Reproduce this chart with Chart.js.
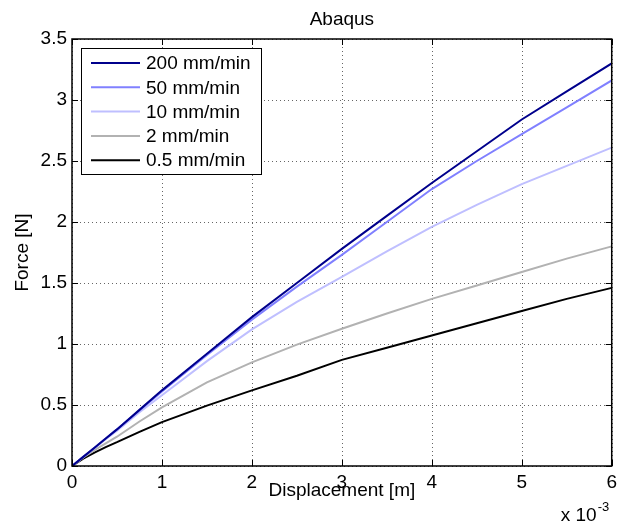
<!DOCTYPE html>
<html>
<head>
<meta charset="utf-8">
<title>Abaqus</title>
<script src="https://cdn.jsdelivr.net/npm/chart.js@4.4.1/dist/chart.umd.min.js"></script>
<style>
  html, body { margin: 0; padding: 0; background: #fff; }
  #wrap { width: 622px; height: 527px; }
</style>
</head>
<body>
<div id="wrap"><canvas id="force_curve" width="622" height="527"></canvas></div>
<script>
// displacement in metres, force in newtons
const displacement = [0, 0.000125, 0.00025, 0.000375, 0.0005, 0.00075, 0.001, 0.0015, 0.002, 0.0025, 0.003, 0.0035, 0.004, 0.0045, 0.005, 0.0055, 0.006];
const force200 = [0, 0.075, 0.15, 0.225, 0.30, 0.46, 0.62, 0.92, 1.22, 1.50, 1.78, 2.05, 2.32, 2.58, 2.84, 3.07, 3.30];
const force50 = [0, 0.075, 0.15, 0.225, 0.30, 0.455, 0.61, 0.91, 1.20, 1.47, 1.73, 2.00, 2.27, 2.50, 2.72, 2.94, 3.16];
const force10 = [0, 0.073, 0.145, 0.22, 0.29, 0.44, 0.58, 0.86, 1.12, 1.345, 1.55, 1.76, 1.96, 2.14, 2.31, 2.46, 2.61];
const force2 = [0, 0.07, 0.13, 0.185, 0.24, 0.365, 0.48, 0.685, 0.85, 0.995, 1.125, 1.25, 1.37, 1.48, 1.59, 1.70, 1.80];
const force05 = [0, 0.06, 0.11, 0.155, 0.195, 0.28, 0.36, 0.495, 0.62, 0.74, 0.87, 0.97, 1.07, 1.17, 1.27, 1.37, 1.46];

const seriesLabels = ["200 mm/min", "50 mm/min", "10 mm/min", "2 mm/min", "0.5 mm/min"];
const seriesColors = ["rgb(0,0,140)", "rgb(128,128,255)", "rgb(191,191,255)", "rgb(178,178,178)", "rgb(0,0,0)"];
const seriesValues = [force200, force50, force10, force2, force05];

const xTitle = "Displacement [m]";
const yTitle = "Force [N]";
const xExponent = "-3";

const FONT = "'Liberation Sans', Arial, Helvetica, sans-serif";

window.onload = init;

function init() {
  Chart.defaults.font.family = FONT;
  Chart.defaults.font.size = 19;
  Chart.defaults.color = "#000";
  drawForceChart();
}

function toPoints(values) {
  return displacement.map(function (x, i) {
    return { x: x, y: values[i] };
  });
}

// dotted grid, box round the axes and inward tick marks, like a MATLAB figure
const framePlugin = {
  id: "frame",
  beforeDatasetsDraw(chart) {
    const ctx = chart.ctx;
    const area = chart.chartArea;
    const xs = chart.scales.x;
    const ys = chart.scales.y;

    ctx.save();
    ctx.strokeStyle = "rgba(0,0,0,0.6)";
    ctx.lineWidth = 1;
    ctx.setLineDash([1, 3]);
    ctx.beginPath();
    xs.ticks.forEach(function (t) {
      let px = Math.round(xs.getPixelForValue(t.value)) + 0.5;
      ctx.moveTo(px, area.top);
      ctx.lineTo(px, area.bottom);
    });
    ys.ticks.forEach(function (t) {
      let py = Math.round(ys.getPixelForValue(t.value)) + 0.5;
      ctx.moveTo(area.left, py);
      ctx.lineTo(area.right, py);
    });
    ctx.stroke();
    ctx.restore();
  },
  afterDatasetsDraw(chart) {
    const ctx = chart.ctx;
    const area = chart.chartArea;
    const xs = chart.scales.x;
    const ys = chart.scales.y;
    const len = 6;

    ctx.save();
    ctx.strokeStyle = "#000";
    ctx.lineWidth = 1;
    ctx.beginPath();
    xs.ticks.forEach(function (t) {
      let px = Math.round(xs.getPixelForValue(t.value)) + 0.5;
      ctx.moveTo(px, area.bottom);
      ctx.lineTo(px, area.bottom - len);
      ctx.moveTo(px, area.top);
      ctx.lineTo(px, area.top + len);
    });
    ys.ticks.forEach(function (t) {
      let py = Math.round(ys.getPixelForValue(t.value)) + 0.5;
      ctx.moveTo(area.left, py);
      ctx.lineTo(area.left + len, py);
      ctx.moveTo(area.right, py);
      ctx.lineTo(area.right - len, py);
    });
    ctx.stroke();

    ctx.lineWidth = 1.5;
    ctx.strokeRect(area.left, area.top, area.right - area.left, area.bottom - area.top);

    // exponent of the x axis
    ctx.fillStyle = "#000";
    ctx.textBaseline = "alphabetic";
    ctx.textAlign = "left";
    ctx.font = "19px " + FONT;
    ctx.fillText("x 10", area.right - 51, 521);
    let w = ctx.measureText("x 10").width;
    ctx.font = "13px " + FONT;
    ctx.fillText(xExponent, area.right - 51 + w + 1, 511);
    ctx.restore();
  },
  afterDraw(chart) {
    // legend box in the upper left corner
    const ctx = chart.ctx;
    const area = chart.chartArea;
    const left = area.left + 9;
    const top = area.top + 9;
    const width = 180;
    const rowH = 24.3;
    const height = 126;

    ctx.save();
    ctx.fillStyle = "#fff";
    ctx.fillRect(left, top, width, height);
    ctx.strokeStyle = "#000";
    ctx.lineWidth = 1;
    ctx.strokeRect(left + 0.5, top + 0.5, width, height);

    ctx.font = "19px " + FONT;
    ctx.textBaseline = "middle";
    ctx.textAlign = "left";
    chart.data.datasets.forEach(function (ds, i) {
      let y = top + 15 + i * rowH;
      ctx.strokeStyle = ds.borderColor;
      ctx.lineWidth = 2;
      ctx.beginPath();
      ctx.moveTo(left + 10, y);
      ctx.lineTo(left + 59, y);
      ctx.stroke();
      ctx.fillStyle = "#000";
      ctx.fillText(ds.label, left + 65, y + 1);
    });
    ctx.restore();
  },
};

function drawForceChart() {
  let datasets = seriesLabels.map(function (label, i) {
    return {
      label: label,
      data: toPoints(seriesValues[i]),
      borderColor: seriesColors[i],
      backgroundColor: seriesColors[i],
      borderWidth: 2,
      pointRadius: 0,
      tension: 0,
      fill: false,
    };
  });

  const ctx = document.getElementById("force_curve");
  new Chart(ctx, {
    type: "line",
    data: { datasets: datasets },
    plugins: [framePlugin],
    options: {
      responsive: false,
      animation: false,
      devicePixelRatio: 1,
      layout: { padding: { left: 0, right: 8, top: 0, bottom: 0 } },
      plugins: {
        legend: { display: false },
        tooltip: { enabled: false },
        title: {
          display: true,
          text: "Abaqus",
          fullSize: false,
          color: "#000",
          font: { size: 19, weight: "normal" },
          padding: { top: 8, bottom: 8.2 },
        },
      },
      scales: {
        x: {
          type: "linear",
          min: 0,
          max: 0.006,
          afterFit: function (scale) {
            scale.height = 61;
          },
          ticks: {
            stepSize: 0.001,
            padding: 5,
            color: "#000",
            maxRotation: 0,
            callback: function (v) {
              return Math.round(v * 1000).toString();
            },
          },
          grid: { display: false, drawTicks: false },
          border: { display: false },
          title: {
            display: true,
            text: xTitle,
            color: "#000",
            padding: { top: 0, bottom: 25 },
          },
        },
        y: {
          type: "linear",
          min: 0,
          max: 3.5,
          afterFit: function (scale) {
            scale.width = 72;
          },
          ticks: {
            stepSize: 0.5,
            padding: 5,
            color: "#000",
            callback: function (v) {
              return String(Math.round(v * 10) / 10);
            },
          },
          grid: { display: false, drawTicks: false },
          border: { display: false },
          title: {
            display: true,
            text: yTitle,
            color: "#000",
            padding: { top: 11.5, bottom: 0 },
          },
        },
      },
    },
  });
}
</script>
</body>
</html>
